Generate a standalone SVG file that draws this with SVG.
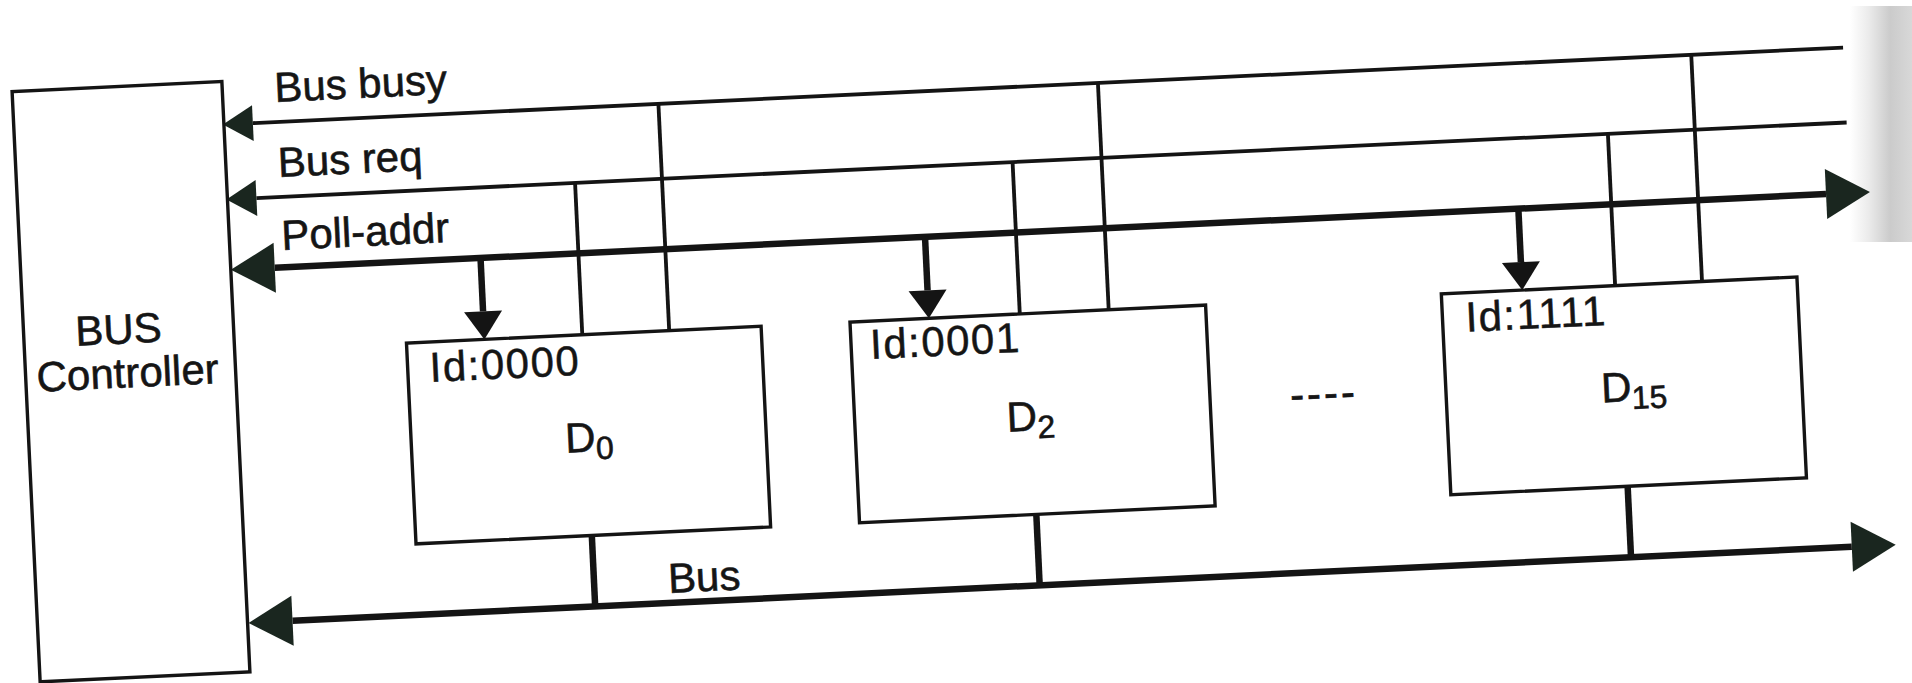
<svg xmlns="http://www.w3.org/2000/svg" width="1912" height="683" viewBox="0 0 1912 683">
<style>
  .box { fill: #ffffff; stroke: #141414; stroke-width: 3.4; }
  .thin { fill: none; stroke: #141414; stroke-width: 3.8; }
  .thick { fill: none; stroke: #141414; stroke-width: 6.5; }
  .lbl { font-family: "Liberation Sans", Arial, sans-serif; font-size: 42px; fill: #151515; stroke: #151515; stroke-width: 0.6px; }
  .id { font-family: "Liberation Sans", Arial, sans-serif; font-size: 42px; letter-spacing: 1.5px; fill: #151515; stroke: #151515; stroke-width: 0.5px; }
  .sub { font-size: 32px; }
</style>
<defs>
  <marker id="arrS" markerUnits="userSpaceOnUse" markerWidth="32" markerHeight="38" refX="0" refY="18" orient="auto-start-reverse" viewBox="0 0 32 38" overflow="visible">
    <path d="M0,0 L30,18 L0,36 Z" fill="#1a261f"/>
  </marker>
  <marker id="arrL" markerUnits="userSpaceOnUse" markerWidth="46" markerHeight="52" refX="0" refY="25" orient="auto-start-reverse" viewBox="0 0 46 52" overflow="visible">
    <path d="M0,0 L44,25 L0,50 Z" fill="#1a261f"/>
  </marker>
  <marker id="arrD" markerUnits="userSpaceOnUse" markerWidth="30" markerHeight="40" refX="0" refY="19" orient="auto" viewBox="0 0 30 40" overflow="visible">
    <path d="M0,0 L28,19 L0,38 Z" fill="#141414"/>
  </marker>
  <linearGradient id="shade" x1="0" y1="0" x2="1" y2="0">
    <stop offset="0" stop-color="#ffffff"/>
    <stop offset="0.3" stop-color="#ebebeb"/>
    <stop offset="0.65" stop-color="#cbcbcb"/>
    <stop offset="1" stop-color="#d8d8d8"/>
  </linearGradient>
</defs>
<rect x="0" y="0" width="1912" height="683" fill="#ffffff"/>
<rect id="scan-shade" x="1850" y="6" width="62" height="236" fill="url(#shade)"/>
<g transform="rotate(-2.72 956 341)">
  <g id="connectors">
    <path class="thin" d="M1856 90 H264" marker-end="url(#arrS)"/>
    <path class="thin" d="M1856 165 H264" marker-end="url(#arrS)"/>
    <path class="thick" d="M279 235.5 H1832" marker-start="url(#arrL)" marker-end="url(#arrL)"/>
    <path class="thick" d="M280 589 H1841" marker-start="url(#arrL)" marker-end="url(#arrL)"/>
    <path class="thick" d="M485 235.5 V289" marker-end="url(#arrD)"/>
    <path class="thick" d="M930 235.5 V289" marker-end="url(#arrD)"/>
    <path class="thick" d="M1524 235.5 V289" marker-end="url(#arrD)"/>
    <path class="thin" d="M583 165 V317"/>
    <path class="thin" d="M670 90 V317"/>
    <path class="thin" d="M1021 165 V317"/>
    <path class="thin" d="M1110 90 V317"/>
    <path class="thin" d="M1617 165 V317"/>
    <path class="thin" d="M1704 90 V317"/>
    <path class="thick" d="M583 518 V589"/>
    <path class="thick" d="M1028 518 V589"/>
    <path class="thick" d="M1620 518 V589"/>
  </g>
  <g id="labels">
    <text class="lbl" x="287" y="70">Bus busy</text>
    <text class="lbl" x="287" y="145">Bus req</text>
    <text class="lbl" x="287" y="218">Poll-addr</text>
    <text class="lbl" x="657" y="579">Bus</text>
    <text class="lbl" x="1321" y="425" text-anchor="middle" letter-spacing="3">----</text>
  </g>
  <g id="bus-controller">
    <rect class="box" x="25" y="47" width="210" height="591"/>
    <text class="lbl" x="120" y="304" text-anchor="middle">BUS</text>
    <text class="lbl" x="127" y="348" text-anchor="middle">Controller</text>
  </g>
  <g id="device-d0">
    <rect class="box" x="407" y="317" width="355" height="201"/>
    <text class="id" x="429" y="357">Id:0000</text>
    <text class="lbl" x="561" y="434">D<tspan class="sub" dy="8">0</tspan></text>
  </g>
  <g id="device-d2">
    <rect class="box" x="851" y="317" width="356" height="201"/>
    <text class="id" x="870" y="355">Id:0001</text>
    <text class="lbl" x="1003" y="434">D<tspan class="sub" dy="8">2</tspan></text>
  </g>
  <g id="device-d15">
    <rect class="box" x="1443" y="317" width="356" height="201"/>
    <text class="id" x="1466" y="356">Id:1111</text>
    <text class="lbl" x="1598" y="433">D<tspan class="sub" dy="8">15</tspan></text>
  </g>
</g>
</svg>
